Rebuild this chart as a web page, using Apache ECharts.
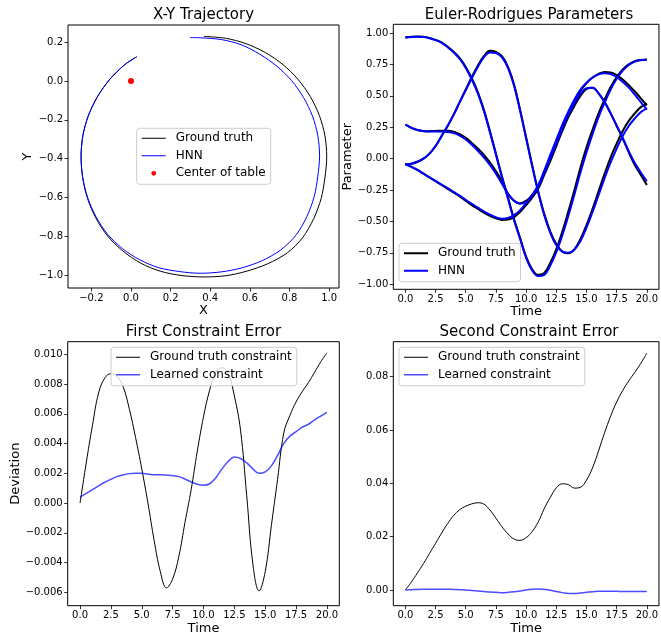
<!DOCTYPE html>
<html>
<head>
<meta charset="utf-8">
<script src="https://cdn.jsdelivr.net/npm/echarts@6/dist/echarts.min.js"></script>
<style>
  html, body { margin: 0; padding: 0; background: #ffffff; }
  #chart { width: 661px; height: 639px; }
</style>
</head>
<body>
<div id="chart"></div>
<script>
// ---- X-Y trajectory of the puck (counter-clockwise from the shared start) ----
const truthX = [0.029, -0.031, -0.107, -0.169, -0.215, -0.243, -0.252, -0.244, -0.220, -0.178, -0.118, -0.041, 0.051, 0.150, 0.258, 0.368, 0.478, 0.585, 0.690, 0.790, 0.866, 0.922, 0.960, 0.979, 0.988, 0.979, 0.951, 0.905, 0.843, 0.767, 0.678, 0.580, 0.476, 0.368];
const truthY = [0.125, 0.085, 0.009, -0.080, -0.178, -0.282, -0.390, -0.498, -0.604, -0.705, -0.799, -0.876, -0.940, -0.981, -1.003, -1.010, -1.004, -0.980, -0.942, -0.885, -0.808, -0.710, -0.605, -0.498, -0.390, -0.282, -0.178, -0.080, 0.009, 0.085, 0.147, 0.193, 0.221, 0.230];
const hnnX = [0.029, -0.031, -0.107, -0.169, -0.215, -0.243, -0.252, -0.244, -0.219, -0.177, -0.118, -0.043, 0.043, 0.139, 0.243, 0.349, 0.455, 0.560, 0.662, 0.757, 0.834, 0.888, 0.925, 0.943, 0.952, 0.943, 0.916, 0.871, 0.811, 0.737, 0.651, 0.557, 0.455, 0.349, 0.298];
const hnnY = [0.125, 0.085, 0.009, -0.080, -0.178, -0.282, -0.390, -0.495, -0.600, -0.699, -0.790, -0.864, -0.921, -0.962, -0.982, -0.991, -0.984, -0.963, -0.926, -0.870, -0.793, -0.698, -0.595, -0.491, -0.386, -0.281, -0.180, -0.085, 0.002, 0.076, 0.138, 0.187, 0.214, 0.223, 0.224];
const tableCenter = [0, 0];

// ---- Euler-Rodrigues parameters, sampled every half time unit ----
const halfSteps = [0, 0.5, 1, 1.5, 2, 2.5, 3, 3.5, 4, 4.5, 5, 5.5, 6, 6.5, 7, 7.5, 8, 8.5, 9, 9.5, 10, 10.5, 11, 11.5, 12, 12.5, 13, 13.5, 14, 14.5, 15, 15.5, 16, 16.5, 17, 17.5, 18, 18.5, 19, 19.5, 20];
const truthQ0 = [0.966, 0.97, 0.972, 0.97, 0.96, 0.945, 0.925, 0.89, 0.85, 0.80, 0.73, 0.64, 0.53, 0.39, 0.22, 0.04, -0.14, -0.31, -0.48, -0.63, -0.78, -0.88, -0.925, -0.91, -0.83, -0.72, -0.58, -0.42, -0.25, -0.07, 0.09, 0.23, 0.36, 0.47, 0.57, 0.65, 0.71, 0.75, 0.775, 0.785, 0.788];
const truthQ1 = [-0.045, -0.04, -0.025, 0.0, 0.04, 0.10, 0.18, 0.26, 0.35, 0.45, 0.55, 0.65, 0.74, 0.815, 0.858, 0.85, 0.815, 0.73, 0.59, 0.39, 0.17, -0.05, -0.26, -0.44, -0.58, -0.68, -0.74, -0.753, -0.72, -0.64, -0.53, -0.40, -0.26, -0.12, 0.01, 0.12, 0.22, 0.30, 0.36, 0.41, 0.435];
const truthQ2 = [0.27, 0.245, 0.228, 0.22, 0.218, 0.22, 0.222, 0.222, 0.215, 0.195, 0.165, 0.125, 0.08, 0.03, -0.03, -0.10, -0.18, -0.28, -0.335, -0.355, -0.335, -0.29, -0.22, -0.11, 0.01, 0.13, 0.25, 0.36, 0.455, 0.54, 0.60, 0.645, 0.675, 0.69, 0.685, 0.665, 0.63, 0.585, 0.535, 0.48, 0.425];
const truthQ3 = [-0.045, -0.065, -0.09, -0.12, -0.15, -0.18, -0.21, -0.24, -0.27, -0.30, -0.335, -0.37, -0.40, -0.43, -0.455, -0.475, -0.488, -0.485, -0.465, -0.425, -0.37, -0.31, -0.24, -0.13, -0.02, 0.10, 0.22, 0.33, 0.42, 0.50, 0.555, 0.565, 0.52, 0.45, 0.36, 0.26, 0.16, 0.05, -0.05, -0.13, -0.21];
const hnnQ0 = [0.962, 0.968, 0.97, 0.968, 0.958, 0.943, 0.922, 0.887, 0.845, 0.793, 0.722, 0.63, 0.52, 0.38, 0.21, 0.03, -0.15, -0.32, -0.49, -0.64, -0.79, -0.89, -0.935, -0.925, -0.85, -0.745, -0.61, -0.455, -0.285, -0.11, 0.05, 0.195, 0.33, 0.445, 0.55, 0.635, 0.70, 0.745, 0.772, 0.783, 0.786];
const hnnQ1 = [-0.045, -0.04, -0.025, 0.0, 0.04, 0.10, 0.18, 0.26, 0.35, 0.45, 0.545, 0.64, 0.73, 0.805, 0.845, 0.84, 0.805, 0.72, 0.58, 0.38, 0.16, -0.06, -0.27, -0.45, -0.59, -0.69, -0.74, -0.75, -0.725, -0.655, -0.55, -0.425, -0.29, -0.155, -0.03, 0.08, 0.18, 0.26, 0.32, 0.37, 0.40];
const hnnQ2 = [0.27, 0.245, 0.228, 0.218, 0.215, 0.215, 0.215, 0.212, 0.203, 0.183, 0.152, 0.11, 0.063, 0.01, -0.05, -0.12, -0.20, -0.28, -0.335, -0.36, -0.345, -0.29, -0.21, -0.095, 0.03, 0.15, 0.27, 0.375, 0.47, 0.55, 0.605, 0.645, 0.67, 0.68, 0.673, 0.65, 0.61, 0.565, 0.51, 0.45, 0.39];
const hnnQ3 = [-0.045, -0.065, -0.09, -0.12, -0.15, -0.178, -0.206, -0.235, -0.265, -0.295, -0.328, -0.36, -0.39, -0.42, -0.445, -0.467, -0.478, -0.472, -0.45, -0.41, -0.355, -0.295, -0.225, -0.115, 0.0, 0.12, 0.24, 0.35, 0.44, 0.515, 0.56, 0.565, 0.52, 0.45, 0.36, 0.265, 0.165, 0.06, -0.035, -0.11, -0.18];

// ---- Constraint errors, sampled every half time unit ----
const firstTruth = [0.0, 0.0027, 0.0052, 0.0074, 0.0084, 0.0087, 0.0085, 0.0078, 0.0063, 0.0044, 0.0023, 0.0000, -0.0025, -0.0046, -0.0057, -0.0051, -0.0036, -0.0013, 0.0009, 0.0035, 0.0058, 0.0076, 0.0088, 0.0091, 0.0087, 0.0072, 0.0049, 0.0005, -0.0041, -0.0059, -0.0046, -0.0015, 0.0016, 0.0047, 0.0059, 0.0068, 0.0075, 0.0081, 0.0088, 0.0095, 0.0101];
const firstLearned = [0.0004, 0.00065, 0.0009, 0.00115, 0.0014, 0.0016, 0.00178, 0.0019, 0.00198, 0.002, 0.002, 0.00195, 0.0019, 0.0019, 0.00188, 0.00185, 0.00178, 0.00162, 0.00142, 0.00126, 0.0012, 0.0013, 0.0017, 0.0023, 0.0028, 0.0031, 0.003, 0.0027, 0.0023, 0.002, 0.0021, 0.0025, 0.0032, 0.004, 0.0045, 0.0048, 0.0051, 0.0053, 0.0056, 0.00585, 0.0061];
const secondTruth = [0.0, 0.0030, 0.0064, 0.0099, 0.0137, 0.0175, 0.0213, 0.0249, 0.0279, 0.0301, 0.0314, 0.0323, 0.0327, 0.0322, 0.0300, 0.0269, 0.0237, 0.0210, 0.0191, 0.0186, 0.0196, 0.0219, 0.0255, 0.0305, 0.0347, 0.0383, 0.0398, 0.0395, 0.0382, 0.0385, 0.0412, 0.0458, 0.0522, 0.0590, 0.0652, 0.0705, 0.0748, 0.0784, 0.0816, 0.0850, 0.0888];
const secondLearned = [0.0, 0.0001, 0.0002, 0.00025, 0.0003, 0.0003, 0.0003, 0.00025, 0.0002, 0.0001, 0.0, -0.0002, -0.0004, -0.0006, -0.0008, -0.0009, -0.001, -0.0009, -0.0007, -0.0004, 0.0, 0.0003, 0.0004, 0.0002, -0.0001, -0.0006, -0.001, -0.0013, -0.0013, -0.0011, -0.0009, -0.0007, -0.0005, -0.0005, -0.0005, -0.0005, -0.0006, -0.0006, -0.0006, -0.0006, -0.0006];

// ---- Tick positions ----
const xyTicksX = [-0.2, 0.0, 0.2, 0.4, 0.6, 0.8, 1.0];
const xyTicksY = [-1.0, -0.8, -0.6, -0.4, -0.2, 0.0, 0.2];
const timeTicks = [0, 2.5, 5, 7.5, 10, 12.5, 15, 17.5, 20];
const paramTicks = [-1, -0.75, -0.5, -0.25, 0, 0.25, 0.5, 0.75, 1];
const firstTicks = [-0.006, -0.004, -0.002, 0, 0.002, 0.004, 0.006, 0.008, 0.010];
const secondTicks = [0, 0.02, 0.04, 0.06, 0.08];

const FONT = 'DejaVu Sans';
const BLUE = '#0000ff';
const SOFT_BLUE = 'rgba(0,0,255,0.7)';

const pairs = (xs, ys) => xs.map((x, i) => [x, ys[i]]);

function fmt(v, d) {
  const s = Math.abs(v).toFixed(d);
  return (v < -1e-12 ? '\u2212' : '') + s;
}

function axis(gridIndex, min, max, ticks, decimals, position, name, nameGap) {
  return {
    type: 'value', gridIndex, min, max, position,
    name, nameLocation: 'middle', nameGap,
    nameTextStyle: { fontSize: 13, fontFamily: FONT, color: '#000' },
    axisLine: { show: false, onZero: false },
    axisTick: { show: true, inside: false, length: 3.5, customValues: ticks, lineStyle: { color: '#000', width: 0.8 } },
    axisLabel: { show: true, customValues: ticks, margin: 5, fontSize: 10, fontFamily: FONT, color: '#000',
                 formatter: v => fmt(v, decimals) },
    splitLine: { show: false }
  };
}

const measureCtx = document.createElement('canvas').getContext('2d');
function textWidth(str, size) {
  measureCtx.font = size + 'px "' + FONT + '"';
  return measureCtx.measureText(str).width;
}
function title(text, cx, top) {
  return { text, left: cx - textWidth(text, 15) / 2, top, padding: 0,
           textStyle: { fontSize: 15, fontWeight: 'normal', fontFamily: FONT, color: '#000' } };
}

const grids = [
  { left: 68, top: 25, width: 271, height: 263 },
  { left: 393.3, top: 24.3, width: 271.4, height: 265 },
  { left: 67.7, top: 341.7, width: 271.6, height: 264 },
  { left: 393.3, top: 341.7, width: 271.4, height: 264 }
].map(g => Object.assign(g, { show: true, borderColor: '#000', borderWidth: 1, backgroundColor: '#fff' }));

// Legend keys: a horizontal bar of the given thickness inside a 24x14 box
function lineIcon(w) {
  const a = 7 - w / 2, b = 7 + w / 2;
  return 'path://M0,0L0.01,0Z M24,14L24.01,14Z M0,' + a + 'H24V' + b + 'H0Z';
}
const dotIcon = 'path://M0,0L0.01,0Z M24,14L24.01,14Z M9.6,7A2.4,2.4,0,1,0,14.4,7A2.4,2.4,0,1,0,9.6,7Z';

function legend(left, top, items) {
  return {
    orient: 'vertical', left, top,
    padding: [3, 5, 4, 5], itemWidth: 24, itemHeight: 14, itemGap: 3.5,
    backgroundColor: 'rgba(255,255,255,0.8)', borderColor: '#cccccc', borderWidth: 1, borderRadius: 3,
    textStyle: { fontSize: 12, fontFamily: FONT, color: '#000', padding: [0, 0, 0, 5] },
    selectedMode: false,
    data: items
  };
}

function line(name, xi, data, color, width, z, smooth) {
  return { type: 'line', name, xAxisIndex: xi, yAxisIndex: xi, data, smooth: smooth || 0.4,
           symbol: 'none', showSymbol: false, z: z || 2,
           lineStyle: { color, width }, itemStyle: { color } };
}

const option = {
  animation: false,
  backgroundColor: '#ffffff',
  title: [
    title('X-Y Trajectory', 203.5, 8),
    title('Euler-Rodrigues Parameters', 529, 8),
    title('First Constraint Error', 203.5, 325),
    title('Second Constraint Error', 529, 325)
  ],
  grid: grids,
  xAxis: [
    axis(0, -0.318, 1.05, xyTicksX, 1, 'bottom', 'X', 16),
    axis(1, -1, 21, timeTicks, 1, 'bottom', 'Time', 16),
    axis(2, -1, 21, timeTicks, 1, 'bottom', 'Time', 16),
    axis(3, -1, 21, timeTicks, 1, 'bottom', 'Time', 16)
  ],
  yAxis: [
    axis(0, -1.067, 0.289, xyTicksY, 1, 'left', 'Y', 34),
    axis(1, -1.04, 1.069, paramTicks, 2, 'left', 'Parameter', 38),
    axis(2, -0.0069, 0.01085, firstTicks, 3, 'left', 'Deviation', 45),
    axis(3, -0.0059, 0.0931, secondTicks, 2, 'left', '', 30)
  ],
  legend: [
    legend(136.7, 128.3, [
      { name: 'Ground truth', icon: lineIcon(1), itemStyle: { color: '#000' } },
      { name: 'HNN', icon: lineIcon(1), itemStyle: { color: BLUE } },
      { name: 'Center of table', icon: dotIcon, itemStyle: { color: '#ff0000' } }
    ]),
    legend(399, 243.3, [
      { name: 'Ground truth', icon: lineIcon(2), itemStyle: { color: '#000' } },
      { name: 'HNN', icon: lineIcon(2), itemStyle: { color: BLUE } }
    ]),
    legend(111, 347.3, [
      { name: 'Ground truth constraint', icon: lineIcon(1), itemStyle: { color: '#000' } },
      { name: 'Learned constraint', icon: lineIcon(1.6), itemStyle: { color: SOFT_BLUE } }
    ]),
    legend(399, 347.3, [
      { name: 'Ground truth constraint', icon: lineIcon(1), itemStyle: { color: '#000' } },
      { name: 'Learned constraint', icon: lineIcon(1.6), itemStyle: { color: SOFT_BLUE } }
    ])
  ],
  series: [
    // trajectory
    line('Ground truth', 0, pairs(truthX, truthY), '#000', 1, 2, 0.3),
    line('HNN', 0, pairs(hnnX, hnnY), BLUE, 1, 2, 0.3),
    { type: 'scatter', name: 'Center of table', xAxisIndex: 0, yAxisIndex: 0, data: [tableCenter],
      symbolSize: 6, itemStyle: { color: '#ff0000', opacity: 1 }, z: 3 },
    // Euler-Rodrigues parameters: ground truth below, HNN on top
    line('Ground truth', 1, pairs(halfSteps, truthQ0), '#000', 2),
    line('Ground truth', 1, pairs(halfSteps, truthQ1), '#000', 2),
    line('Ground truth', 1, pairs(halfSteps, truthQ2), '#000', 2),
    line('Ground truth', 1, pairs(halfSteps, truthQ3), '#000', 2),
    line('HNN', 1, pairs(halfSteps, hnnQ0), BLUE, 2, 3),
    line('HNN', 1, pairs(halfSteps, hnnQ1), BLUE, 2, 3),
    line('HNN', 1, pairs(halfSteps, hnnQ2), BLUE, 2, 3),
    line('HNN', 1, pairs(halfSteps, hnnQ3), BLUE, 2, 3),
    // constraint errors
    line('Ground truth constraint', 2, pairs(halfSteps, firstTruth), '#000', 1),
    line('Learned constraint', 2, pairs(halfSteps, firstLearned), SOFT_BLUE, 1.5),
    line('Ground truth constraint', 3, pairs(halfSteps, secondTruth), '#000', 1),
    line('Learned constraint', 3, pairs(halfSteps, secondLearned), SOFT_BLUE, 1.5)
  ]
};

const chart = echarts.init(document.getElementById('chart'), null, { renderer: 'canvas' });
chart.setOption(option);
</script>
</body>
</html>
